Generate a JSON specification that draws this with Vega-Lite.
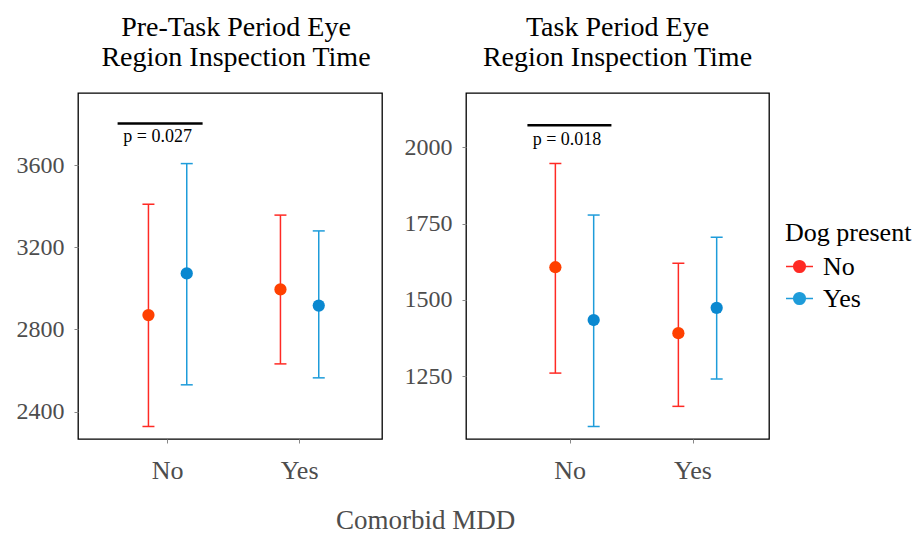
{
  "$schema": "https://vega.github.io/schema/vega-lite/v6.json",
  "background": "white",
  "padding": {"left": 15, "top": 13, "right": 0, "bottom": 0},
  "config": {
    "font": "Liberation Serif",
    "view": {"stroke": "black", "strokeWidth": 1.3},
    "axis": {"grid": false, "domain": false, "tickColor": "#888888", "tickSize": 4, "labelFont": "Liberation Serif", "labelColor": "#4d4d4d"},
    "title": {"font": "Liberation Serif", "fontWeight": "normal", "color": "black"},
    "concat": {"spacing": 20}
  },
  "title": {"text": "Comorbid MDD", "orient": "bottom", "anchor": "middle", "fontSize": 27, "color": "#4d4d4d", "fontWeight": "normal", "offset": 24, "dx": -38},
  "datasets": {
    "pre": [
      {"mdd": "No", "dog": "No", "mean": 2870, "lo": 2327, "hi": 3410},
      {"mdd": "No", "dog": "Yes", "mean": 3073, "lo": 2530, "hi": 3608},
      {"mdd": "Yes", "dog": "No", "mean": 2995, "lo": 2632, "hi": 3357},
      {"mdd": "Yes", "dog": "Yes", "mean": 2916, "lo": 2564, "hi": 3280}
    ],
    "task": [
      {"mdd": "No", "dog": "No", "mean": 1607, "lo": 1260, "hi": 1947},
      {"mdd": "No", "dog": "Yes", "mean": 1434, "lo": 1085, "hi": 1778},
      {"mdd": "Yes", "dog": "No", "mean": 1391, "lo": 1151, "hi": 1620},
      {"mdd": "Yes", "dog": "Yes", "mean": 1474, "lo": 1241, "hi": 1705}
    ],
    "preNote": [{"mdd": "No", "y": 3803, "ty": 3738, "label": "p = 0.027"}],
    "taskNote": [{"mdd": "No", "y": 2072, "ty": 2023, "label": "p = 0.018"}]
  },
  "hconcat": [
    {
      "width": 304,
      "height": 346,
      "title": {"text": ["Pre-Task Period Eye", "Region Inspection Time"], "fontSize": 28, "lineHeight": 30, "offset": 21, "anchor": "middle", "dx": 6},
      "encoding": {
        "x": {"field": "mdd", "type": "nominal", "scale": {"domain": ["No", "Yes"], "paddingInner": 0, "paddingOuter": 0.1515, "align": 0.59}, "axis": {"title": null, "labelAngle": 0, "labelFontSize": 26, "labelPadding": 14}}
      },
      "layer": [
        {
          "data": {"name": "pre"},
          "mark": {"type": "rule", "strokeWidth": 1.5, "opacity": 1},
          "encoding": {
            "xOffset": {"field": "dog", "type": "nominal", "scale": {"domain": ["No", "Yes"], "paddingInner": 0, "paddingOuter": 0.723}},
            "y": {"field": "lo", "type": "quantitative", "scale": {"domain": [2266, 3952], "nice": false, "zero": false}, "axis": {"title": null, "values": [2400, 2800, 3200, 3600], "format": "d", "labelFontSize": 24, "labelPadding": 10}},
            "y2": {"field": "hi"},
            "color": {"field": "dog", "type": "nominal", "scale": {"domain": ["No", "Yes"], "range": ["#FF2A24", "#1E9CDA"]}}
          }
        },
        {
          "data": {"name": "pre"},
          "mark": {"type": "tick", "thickness": 1.5, "size": 12, "opacity": 1},
          "encoding": {
            "xOffset": {"field": "dog", "type": "nominal", "scale": {"domain": ["No", "Yes"], "paddingInner": 0, "paddingOuter": 0.723}},
            "y": {"field": "lo", "type": "quantitative", "scale": {"domain": [2266, 3952], "nice": false, "zero": false}, "axis": {"title": null, "values": [2400, 2800, 3200, 3600], "format": "d", "labelFontSize": 24, "labelPadding": 10}},
            "color": {"field": "dog", "type": "nominal"}
          }
        },
        {
          "data": {"name": "pre"},
          "mark": {"type": "tick", "thickness": 1.5, "size": 12, "opacity": 1},
          "encoding": {
            "xOffset": {"field": "dog", "type": "nominal", "scale": {"domain": ["No", "Yes"], "paddingInner": 0, "paddingOuter": 0.723}},
            "y": {"field": "hi", "type": "quantitative", "scale": {"domain": [2266, 3952], "nice": false, "zero": false}, "axis": {"title": null, "values": [2400, 2800, 3200, 3600], "format": "d", "labelFontSize": 24, "labelPadding": 10}},
            "color": {"field": "dog", "type": "nominal"}
          }
        },
        {
          "data": {"name": "pre"},
          "mark": {"type": "point", "filled": true, "size": 150, "opacity": 1},
          "encoding": {
            "xOffset": {"field": "dog", "type": "nominal", "scale": {"domain": ["No", "Yes"], "paddingInner": 0, "paddingOuter": 0.723}},
            "y": {"field": "mean", "type": "quantitative", "scale": {"domain": [2266, 3952], "nice": false, "zero": false}, "axis": {"title": null, "values": [2400, 2800, 3200, 3600], "format": "d", "labelFontSize": 24, "labelPadding": 10}},
            "fill": {"field": "dog", "type": "nominal", "scale": {"domain": ["No", "Yes"], "range": ["#FF4000", "#0A88D0"]},
              "legend": {"title": "Dog present", "orient": "none", "legendX": 707, "legendY": 127, "titleFontSize": 26, "labelFontSize": 26, "titleFontWeight": "normal", "titleColor": "black", "labelColor": "black", "titleFont": "Liberation Serif", "labelFont": "Liberation Serif", "symbolType": "M-1,0H1M0.43,0A0.43,0.43,0,1,1,-0.43,0A0.43,0.43,0,1,1,0.43,0Z", "symbolSize": 729, "symbolOpacity": 1, "symbolStrokeWidth": 1.5, "rowPadding": 4, "titlePadding": 6, "labelOffset": 9}}
          }
        },
        {
          "data": {"name": "preNote"},
          "mark": {"type": "tick", "thickness": 2.5, "size": 85, "xOffset": -7.5, "color": "black", "opacity": 1},
          "encoding": {
            "y": {"field": "y", "type": "quantitative", "scale": {"domain": [2266, 3952], "nice": false, "zero": false}, "axis": {"title": null, "values": [2400, 2800, 3200, 3600], "format": "d", "labelFontSize": 24, "labelPadding": 10}}
          }
        },
        {
          "data": {"name": "preNote"},
          "mark": {"type": "text", "fontSize": 18, "dx": -10, "baseline": "middle", "color": "black", "font": "Liberation Serif"},
          "encoding": {
            "y": {"field": "ty", "type": "quantitative", "scale": {"domain": [2266, 3952], "nice": false, "zero": false}, "axis": {"title": null, "values": [2400, 2800, 3200, 3600], "format": "d", "labelFontSize": 24, "labelPadding": 10}},
            "text": {"field": "label"}
          }
        }
      ]
    },
    {
      "width": 303,
      "height": 346,
      "title": {"text": ["Task Period Eye", "Region Inspection Time"], "fontSize": 28, "lineHeight": 30, "offset": 21, "anchor": "middle"},
      "encoding": {
        "x": {"field": "mdd", "type": "nominal", "scale": {"domain": ["No", "Yes"], "paddingInner": 0, "paddingOuter": 0.2317, "align": 0.746}, "axis": {"title": null, "labelAngle": 0, "labelFontSize": 26, "labelPadding": 14}}
      },
      "layer": [
        {
          "data": {"name": "task"},
          "mark": {"type": "rule", "strokeWidth": 1.5, "opacity": 1},
          "encoding": {
            "xOffset": {"field": "dog", "type": "nominal", "scale": {"domain": ["No", "Yes"], "paddingInner": 0, "paddingOuter": 0.519}},
            "y": {"field": "lo", "type": "quantitative", "scale": {"domain": [1044, 2178], "nice": false, "zero": false}, "axis": {"title": null, "values": [1250, 1500, 1750, 2000], "format": "d", "labelFontSize": 24, "labelPadding": 10}},
            "y2": {"field": "hi"},
            "color": {"field": "dog", "type": "nominal"}
          }
        },
        {
          "data": {"name": "task"},
          "mark": {"type": "tick", "thickness": 1.5, "size": 12, "opacity": 1},
          "encoding": {
            "xOffset": {"field": "dog", "type": "nominal", "scale": {"domain": ["No", "Yes"], "paddingInner": 0, "paddingOuter": 0.519}},
            "y": {"field": "lo", "type": "quantitative", "scale": {"domain": [1044, 2178], "nice": false, "zero": false}, "axis": {"title": null, "values": [1250, 1500, 1750, 2000], "format": "d", "labelFontSize": 24, "labelPadding": 10}},
            "color": {"field": "dog", "type": "nominal"}
          }
        },
        {
          "data": {"name": "task"},
          "mark": {"type": "tick", "thickness": 1.5, "size": 12, "opacity": 1},
          "encoding": {
            "xOffset": {"field": "dog", "type": "nominal", "scale": {"domain": ["No", "Yes"], "paddingInner": 0, "paddingOuter": 0.519}},
            "y": {"field": "hi", "type": "quantitative", "scale": {"domain": [1044, 2178], "nice": false, "zero": false}, "axis": {"title": null, "values": [1250, 1500, 1750, 2000], "format": "d", "labelFontSize": 24, "labelPadding": 10}},
            "color": {"field": "dog", "type": "nominal"}
          }
        },
        {
          "data": {"name": "task"},
          "mark": {"type": "point", "filled": true, "size": 150, "opacity": 1},
          "encoding": {
            "xOffset": {"field": "dog", "type": "nominal", "scale": {"domain": ["No", "Yes"], "paddingInner": 0, "paddingOuter": 0.519}},
            "y": {"field": "mean", "type": "quantitative", "scale": {"domain": [1044, 2178], "nice": false, "zero": false}, "axis": {"title": null, "values": [1250, 1500, 1750, 2000], "format": "d", "labelFontSize": 24, "labelPadding": 10}},
            "fill": {"field": "dog", "type": "nominal"}
          }
        },
        {
          "data": {"name": "taskNote"},
          "mark": {"type": "tick", "thickness": 2.5, "size": 84, "xOffset": -0.6, "color": "black", "opacity": 1},
          "encoding": {
            "y": {"field": "y", "type": "quantitative", "scale": {"domain": [1044, 2178], "nice": false, "zero": false}, "axis": {"title": null, "values": [1250, 1500, 1750, 2000], "format": "d", "labelFontSize": 24, "labelPadding": 10}}
          }
        },
        {
          "data": {"name": "taskNote"},
          "mark": {"type": "text", "fontSize": 18, "dx": -3, "baseline": "middle", "color": "black", "font": "Liberation Serif"},
          "encoding": {
            "y": {"field": "ty", "type": "quantitative", "scale": {"domain": [1044, 2178], "nice": false, "zero": false}, "axis": {"title": null, "values": [1250, 1500, 1750, 2000], "format": "d", "labelFontSize": 24, "labelPadding": 10}},
            "text": {"field": "label"}
          }
        }
      ]
    }
  ]
}
